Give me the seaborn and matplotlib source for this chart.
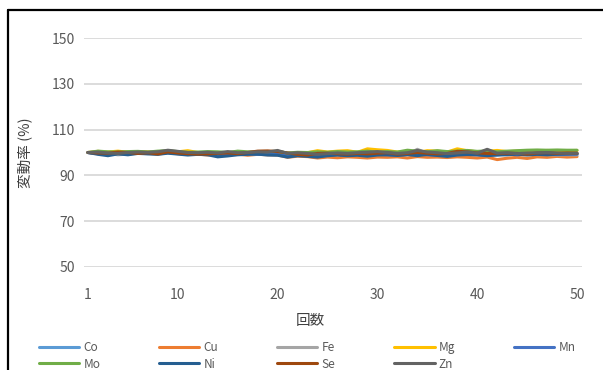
import matplotlib
matplotlib.use("Agg")
import matplotlib.pyplot as plt
from matplotlib.lines import Line2D
import seaborn as sns
import pandas as pd

# Measurement runs 1..50
runs = list(range(1, 51))

# Relative variation (%) of each element per run
Co = [100.0, 99.6, 99.3, 99.5, 99.8, 100.0, 99.7, 99.6, 100.2, 99.8,
      99.5, 99.4, 99.6, 99.1, 99.3, 99.5, 99.6, 99.4, 99.7, 99.5,
      98.9, 99.2, 99.0, 98.8, 99.1, 99.3, 99.0, 99.2, 99.4, 99.1,
      99.3, 99.0, 99.2, 99.5, 99.4, 99.1, 99.0, 99.3, 99.6, 99.4,
      99.2, 99.0, 99.3, 99.1, 99.4, 99.2, 99.5, 99.3, 99.4, 99.2]
Cu = [100.0, 99.7, 99.4, 99.6, 99.5, 99.8, 99.6, 99.3, 99.9, 99.5,
      99.2, 99.3, 98.9, 99.1, 99.0, 99.3, 98.8, 99.2, 99.0, 98.9,
      97.9, 98.4, 98.2, 97.6, 98.0, 97.7, 98.1, 97.9, 97.6, 98.0,
      97.9, 98.1, 97.6, 98.2, 97.9, 98.0, 97.8, 98.1, 97.9, 97.6,
      98.0, 96.9, 97.5, 97.9, 97.4, 98.1, 97.9, 98.3, 98.0, 98.2]
Fe = [100.0, 99.8, 99.5, 99.0, 99.3, 99.7, 99.5, 99.8, 100.3, 99.7,
      99.6, 99.4, 99.5, 99.3, 99.6, 99.4, 99.7, 99.2, 99.5, 99.4,
      98.9, 99.2, 99.1, 99.0, 99.3, 99.0, 99.2, 99.1, 99.4, 99.3,
      99.5, 99.2, 99.0, 101.4, 99.6, 99.3, 99.1, 99.6, 99.8, 99.3,
      99.7, 99.2, 99.4, 99.0, 99.3, 99.1, 99.0, 98.9, 99.0, 98.9]
Mg = [100.0, 100.5, 100.2, 100.6, 100.1, 100.4, 100.3, 100.1, 100.6, 100.3,
      100.8, 100.0, 99.8, 99.6, 99.9, 100.2, 100.0, 99.9, 100.3, 100.1,
      99.5, 99.8, 99.9, 100.8, 100.2, 100.6, 100.8, 100.1, 101.6, 101.2,
      100.9, 100.2, 100.4, 100.0, 100.8, 100.6, 100.2, 101.6, 100.8, 100.3,
      100.5, 100.9, 100.4, 100.6, 100.8, 100.5, 100.9, 100.6, 100.8, 100.9]
Mn = [100.0, 99.5, 99.3, 99.7, 99.4, 99.8, 99.6, 99.5, 100.0, 99.6,
      99.3, 99.4, 99.2, 98.9, 99.1, 99.3, 99.5, 99.2, 99.4, 99.3,
      98.6, 99.0, 98.8, 98.6, 98.9, 99.1, 98.9, 99.2, 98.8, 99.2,
      99.0, 98.9, 99.1, 99.3, 99.0, 98.8, 99.1, 99.4, 99.2, 99.0,
      98.9, 99.1, 99.3, 99.0, 99.4, 99.2, 99.3, 99.1, 99.2, 99.3]
Mo = [100.0, 100.6, 100.3, 100.2, 100.4, 100.5, 100.2, 100.6, 100.8, 100.4,
      100.1, 100.2, 100.4, 100.3, 100.0, 100.6, 100.3, 100.2, 100.4, 100.5,
      99.8, 100.1, 100.0, 100.3, 100.1, 100.4, 100.2, 100.3, 100.6, 100.1,
      100.4, 100.2, 101.0, 100.6, 100.3, 100.8, 100.4, 100.6, 100.9, 100.5,
      100.7, 100.3, 100.6, 100.8, 101.0, 101.1, 101.0, 101.1, 101.0, 101.0]
Ni = [100.0, 99.2, 98.6, 99.4, 99.0, 99.6, 99.4, 99.2, 99.7, 99.3,
      98.9, 99.2, 99.0, 98.1, 98.5, 99.0, 99.2, 99.3, 98.9, 98.8,
      98.0, 98.6, 98.3, 98.0, 98.6, 98.9, 98.6, 98.8, 98.4, 98.9,
      99.0, 98.7, 99.1, 98.6, 99.2, 98.7, 98.3, 98.9, 99.1, 99.0,
      98.6, 98.9, 99.0, 99.3, 98.9, 99.2, 99.0, 99.3, 99.4, 99.5]
Se = [100.0, 99.8, 99.7, 100.2, 100.0, 99.6, 99.9, 99.4, 100.3, 99.8,
      99.5, 99.3, 99.4, 99.6, 99.8, 99.5, 100.0, 100.6, 100.7, 100.4,
      99.8, 99.2, 98.9, 99.6, 99.7, 99.5, 99.3, 99.6, 99.4, 99.7,
      99.9, 99.3, 99.6, 100.0, 99.7, 99.4, 99.6, 100.5, 100.3, 99.8,
      99.6, 99.5, 99.7, 99.6, 99.3, 99.8, 99.9, 99.6, 99.8, 99.7]
Zn = [100.0, 100.2, 99.8, 99.6, 100.0, 100.2, 100.1, 100.3, 101.0, 100.5,
      100.0, 99.9, 100.1, 99.8, 100.4, 99.9, 100.0, 100.3, 100.2, 100.9,
      99.6, 99.9, 99.6, 99.2, 99.5, 99.8, 99.6, 99.9, 100.1, 100.4,
      100.0, 99.6, 99.9, 100.9, 100.2, 99.9, 99.5, 99.8, 100.2, 99.7,
      101.4, 99.7, 99.9, 99.5, 99.8, 99.9, 100.0, 99.8, 99.6, 99.7]

elements = ["Co", "Cu", "Fe", "Mg", "Mn", "Mo", "Ni", "Se", "Zn"]
series = [Co, Cu, Fe, Mg, Mn, Mo, Ni, Se, Zn]
colors = ["#5B9BD5", "#ED7D31", "#A5A5A5", "#FFC000", "#4472C4",
          "#70AD47", "#255E91", "#9E480E", "#636363"]

y_ticks = [50, 70, 90, 110, 130, 150]
x_ticks = [1, 10, 20, 30, 40, 50]

df = pd.DataFrame({
    "回数": runs * len(elements),
    "変動率": [v for s in series for v in s],
    "元素": [e for e in elements for _ in runs],
})

sns.set_theme(style="white")
plt.rcParams["font.family"] = ["Noto Sans CJK JP", "DejaVu Sans"]

fig = plt.figure(figsize=(6.03, 3.70), dpi=100)
ax = fig.add_axes([84 / 603, 1 - 267 / 370, 498 / 603, 229 / 370])

palette = dict(zip(elements, colors))
sns.lineplot(data=df, x="回数", y="変動率", hue="元素", hue_order=elements,
             palette=palette, linewidth=2.2, legend=False, ax=ax,
             errorbar=None, sort=False)

ax.set_xlim(0.6, 50.5)
ax.set_ylim(50, 150)
ax.set_yticks(y_ticks)
ax.set_xticks(x_ticks)
ax.yaxis.grid(True, color="#D9D9D9", linewidth=1.3)
ax.set_axisbelow(True)
for side in ["left", "right", "top", "bottom"]:
    ax.spines[side].set_visible(False)
ax.tick_params(axis="both", length=0, labelsize=10, labelcolor="#595959")
ax.tick_params(axis="x", pad=15)
ax.tick_params(axis="y", pad=6.5)

ax.set_xlabel("回数", fontsize=10.5, color="#404040")
ax.set_ylabel("変動率 (%)", fontsize=10.5, color="#404040")
ax.xaxis.set_label_coords(0.454, -0.205)
ax.yaxis.set_label_coords(-0.104, 0.50)

# Legend laid out row by row: Co Cu Fe Mg Mn / Mo Ni Se Zn
order = [0, 5, 1, 6, 2, 7, 3, 8, 4]
handles = [Line2D([0], [0], color=colors[i], linewidth=2.2) for i in order]
labels = [elements[i] for i in order]
fig.legend(handles, labels, loc="upper left",
           bbox_to_anchor=(39 / 603, 1 - 341 / 370), ncol=5, frameon=False,
           fontsize=8.5, labelcolor="#595959", handlelength=3.4,
           handletextpad=0.35, columnspacing=5.0, labelspacing=0.3,
           borderpad=0, borderaxespad=0)

# Outer chart frame (left and top edges)
x_edge = 7.5 / 603
y_edge = 1 - 9.5 / 370
fig.add_artist(Line2D([x_edge, x_edge], [0, y_edge], color="black",
                      linewidth=1.6, transform=fig.transFigure))
fig.add_artist(Line2D([x_edge, 1.02], [y_edge, y_edge], color="black",
                      linewidth=1.6, transform=fig.transFigure))

fig.savefig("out.png", dpi=100)
